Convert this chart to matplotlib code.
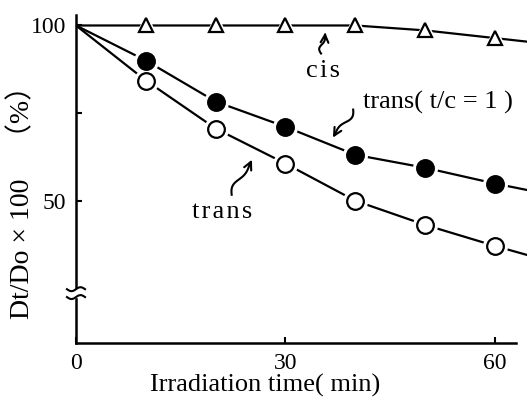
import numpy as np
import matplotlib
matplotlib.use('Agg')
import matplotlib.pyplot as plt

plt.rcParams['font.family'] = ['Liberation Serif', 'DejaVu Serif', 'Noto Sans CJK JP']

# irradiation time (min)
t = [0, 10, 20, 30, 40, 50, 60]
cis = [100, 100, 100, 100, 100, 98.6, 96.4]
trans_tc1 = [100, 90.0, 78.3, 71.1, 63.1, 59.4, 54.9]
trans = [100, 84.3, 70.6, 60.6, 50.0, 43.1, 37.1]

# curves keep going past the last measurement
t_end = 65
cis_end = 95.3
trans_tc1_end = 52.9
trans_end = 34.3

fig = plt.figure(figsize=(5.27, 4.09), dpi=100)
ax = fig.add_axes([0.1442, 0.1614, 0.8558, 0.802])

lw = 1.6
for y, y_end, mk, fc, ms in [(cis, cis_end, '^', 'white', 10.5),
                             (trans_tc1, trans_tc1_end, 'o', 'black', 12),
                             (trans, trans_end, 'o', 'white', 12)]:
    ax.plot(t + [t_end], y + [y_end], color='black', lw=lw, zorder=2)
    # white halo leaves a small gap between line and symbol
    ax.plot(t[1:], y[1:], ls='none', marker=mk, ms=ms + 5, mfc='white',
            mec='white', zorder=3)
    ax.plot(t[1:], y[1:], ls='none', marker=mk, ms=ms, mfc=fc,
            mec='black', mew=1.6, zorder=4)

ax.set_xlim(0, 64.6)
ax.set_ylim(9.4, 103)
for s in ['top', 'right']:
    ax.spines[s].set_visible(False)
ax.spines['bottom'].set_bounds(0, 63)
ax.spines['left'].set_linewidth(1.8)
ax.spines['bottom'].set_linewidth(1.8)

ax.set_xticks([0, 30, 60])
ax.set_xticklabels(['0', '30', '60'])
ax.set_yticks([50, 75, 100])
ax.set_yticklabels(['50', '', '100'])
ax.tick_params(direction='in', length=4, width=1.5, labelsize=17, pad=7)

ax.set_xlabel('Irradiation time( min)', fontsize=19)
ax.xaxis.set_label_coords(0.419, -0.093)
ax.set_ylabel('Dt/Do × 100\u3000（%）', fontsize=20)
ax.yaxis.set_label_coords(-0.090, 0.45)

# axis break on the y axis
yb = 0.152
ax.add_patch(plt.Rectangle((-0.015, yb - 0.012), 0.03, 0.024,
                           transform=ax.transAxes, color='white',
                           clip_on=False, zorder=5))
xs = np.linspace(-0.02, 0.02, 40)
for dy in (-0.012, 0.012):
    ax.plot(xs, yb + dy + 0.006 * np.sin(xs / 0.02 * np.pi),
            transform=ax.transAxes, color='black', lw=1.5,
            clip_on=False, zorder=6)


def squiggle(p0, p1, amp=0.8):
    # wavy arrow from p0 to p1, given in data units
    x0, y0 = p0
    x1, y1 = p1
    s = np.linspace(0, 1, 60)
    dx, dy = x1 - x0, y1 - y0
    L = np.hypot(dx / 64.6 * 451, dy / 93.6 * 328)
    nx, ny = -dy / 93.6 * 328 / L, dx / 64.6 * 451 / L
    w = amp * np.sin(s * 2 * np.pi) * (1 - s)
    xs = x0 + dx * s + w * nx * 64.6 / 451 * 6
    ys = y0 + dy * s + w * ny * 93.6 / 328 * 6
    ax.plot(xs[:-8], ys[:-8], color='black', lw=1.5, zorder=5)
    ax.annotate('', xy=(x1, y1), xytext=(xs[-9], ys[-9]),
                arrowprops=dict(arrowstyle='->', lw=1.5, color='black',
                                mutation_scale=14, shrinkA=0, shrinkB=0))


squiggle((35.1, 92.0), (35.7, 98.0), amp=0.6)
squiggle((39.7, 76.0), (36.8, 68.0))
squiggle((22.3, 51.7), (25.2, 61.7))

hs = '\u200a'
ax.text(35.4, 87.1, hs.join('cis'), fontsize=19, ha='center', va='center')
ax.text(41.1, 78.0, 'trans( t/c = 1 )', fontsize=19, ha='left', va='center')
ax.text(20.9, 46.9, hs.join('trans'), fontsize=19, ha='center', va='center')

fig.savefig('out.png', dpi=100)
